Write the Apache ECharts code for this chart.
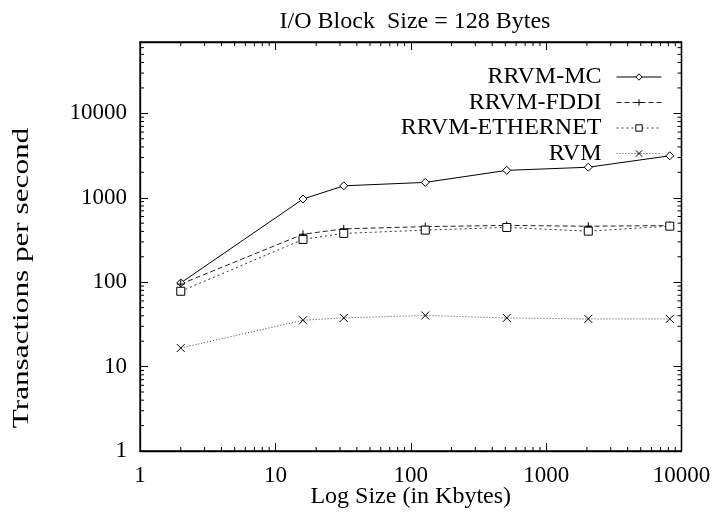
<!DOCTYPE html>
<html><head><meta charset="utf-8">
<script src="https://cdn.jsdelivr.net/npm/echarts@6/dist/echarts.min.js"></script>
<style>html,body{margin:0;padding:0;background:#fff}#c{width:717px;height:519px}</style>
</head><body><div id="c"></div>
<script>
const sizesKB = [2, 16, 32, 128, 512, 2048, 8192];
const rrvmMC = [98, 965, 1385, 1520, 2110, 2300, 3140];
const rrvmFDDI = [95, 370, 428, 455, 470, 460, 468];
const rrvmEthernet = [78, 321, 378, 414, 445, 402, 461];
const rvm = [16.6, 35.4, 37.7, 40.3, 37.7, 36.7, 36.7];
const seriesNames = ['RRVM-MC', 'RRVM-FDDI', 'RRVM-ETHERNET', 'RVM'];
const xTickLabels = ['1', '10', '100', '1000', '10000'];
const yTickLabels = ['1', '10', '100', '1000', '10000'];
const minorMultiples = [2, 3, 4, 5, 6, 7, 8, 9];
const xDecades = [1, 10, 100, 1000];
const yDecades = [1, 10, 100, 1000, 10000];
const X_MIN = 1, X_MAX = 10000, Y_MIN = 1, Y_MAX = 70000;

const FONT = 'Liberation Serif';
const chart = echarts.init(document.getElementById('c'), null, {renderer: 'canvas'});

const pair = (ys) => sizesKB.map((x, i) => [x, ys[i]]);

const minorX = [];
xDecades.forEach(d => minorMultiples.forEach(m => { if (d * m < X_MAX) minorX.push(d * m); }));
const minorY = [];
yDecades.forEach(d => minorMultiples.forEach(m => { if (d * m < Y_MAX) minorY.push(d * m); }));
const minorData = minorX.map(v => [v, Y_MIN, 0]).concat(minorY.map(v => [X_MIN, v, 1]));

const plusPath = 'path://M0,5L10,5M5,0L5,10';
const crossPath = 'path://M0,0L10,10M0,10L10,0';

function lineSeries(name, ys, symbol, size, dash, color) {
  return {
    name, type: 'line', data: pair(ys), symbol, symbolSize: size,
    showAllSymbol: true,
    lineStyle: {color, width: 1, type: dash},
    itemStyle: {color: symbol.startsWith('path') ? 'rgba(0,0,0,0)' : '#fff', borderColor: '#000', borderWidth: 1},
    emphasis: {disabled: true}, z: 3
  };
}

const labelFmt = (labels) => (v) => {
  const s = String(Math.round(v));
  return labels.indexOf(s) >= 0 ? s : '';
};

const axisCommon = {
  type: 'log', logBase: 10,
  axisLine: {show: true, lineStyle: {color: '#000', width: 1.3}},
  axisTick: {show: true, inside: true, length: 8, lineStyle: {color: '#000'}},
  splitLine: {show: false},
  minorTick: {show: false}
};

chart.setOption({
  animation: false,
  backgroundColor: '#fff',
  title: {
    text: 'I/O Block  Size = 128 Bytes', left: 410, top: 5, textAlign: 'center',
    textStyle: {fontFamily: FONT, fontSize: 24, fontWeight: 'normal', color: '#000'}
  },
  grid: {left: 140, right: 35.5, top: 42, bottom: 68, show: true, borderColor: '#000', borderWidth: 1.3,
         containLabel: false, outerBoundsMode: 'none'},
  legend: {
    data: seriesNames, orient: 'vertical', right: 50, top: 60, align: 'right',
    itemWidth: 45, itemHeight: 8, itemGap: 1.5,
    itemStyle: {borderWidth: 1},
    lineStyle: {width: 1},
    textStyle: {fontFamily: FONT, fontSize: 24, lineHeight: 22, color: '#000', padding: [0, 10, 0, 0]},
    selectedMode: false
  },
  xAxis: [
    Object.assign({}, axisCommon, {
      min: X_MIN, max: X_MAX, position: 'bottom',
      name: 'Log Size (in Kbytes)', nameLocation: 'middle', nameGap: 34, nameMoveOverlap: false,
      nameTextStyle: {fontFamily: FONT, fontSize: 24, color: '#000'},
      axisLabel: {fontFamily: FONT, fontSize: 23, color: '#000', margin: 13, formatter: labelFmt(xTickLabels)}
    }),
    Object.assign({}, axisCommon, {
      min: X_MIN, max: X_MAX, position: 'top', axisLabel: {show: false}
    })
  ],
  yAxis: [
    Object.assign({}, axisCommon, {
      min: Y_MIN, max: Y_MAX, position: 'left',
      axisLabel: {fontFamily: FONT, fontSize: 23, color: '#000', margin: 13, formatter: labelFmt(yTickLabels)}
    }),
    Object.assign({}, axisCommon, {
      min: Y_MIN, max: Y_MAX, position: 'right', axisLabel: {show: false}
    })
  ],
  graphic: [{
    type: 'text', x: 22, y: 278, rotation: Math.PI / 2, scaleX: 1.3, scaleY: 1,
    style: {text: 'Transactions per second', fontFamily: FONT, fontSize: 24, fill: '#000', align: 'center', verticalAlign: 'middle'}
  }],
  series: [
    lineSeries('RRVM-MC', rrvmMC, 'diamond', 8, 'solid', '#000'),
    lineSeries('RRVM-FDDI', rrvmFDDI, plusPath, 8, [5, 3], '#222'),
    lineSeries('RRVM-ETHERNET', rrvmEthernet, 'rect', 8, [2, 3], '#333'),
    lineSeries('RVM', rvm, crossPath, 8, [1, 2], '#444'),
    {
      type: 'custom', name: 'minorTicks', silent: true, clip: false, z: 2,
      data: minorData,
      encode: {x: 0, y: 1},
      renderItem: function (params, api) {
        const kind = api.value(2);
        const len = 4;
        if (kind === 0) {
          const xv = api.value(0);
          const b = api.coord([xv, Y_MIN]);
          const t = api.coord([xv, Y_MAX]);
          return {type: 'group', children: [
            {type: 'line', shape: {x1: b[0], y1: b[1], x2: b[0], y2: b[1] - len}, style: {stroke: '#000', lineWidth: 1}},
            {type: 'line', shape: {x1: t[0], y1: t[1], x2: t[0], y2: t[1] + len}, style: {stroke: '#000', lineWidth: 1}}
          ]};
        } else {
          const yv = api.value(1);
          const l = api.coord([X_MIN, yv]);
          const r = api.coord([X_MAX, yv]);
          return {type: 'group', children: [
            {type: 'line', shape: {x1: l[0], y1: l[1], x2: l[0] + len, y2: l[1]}, style: {stroke: '#000', lineWidth: 1}},
            {type: 'line', shape: {x1: r[0], y1: r[1], x2: r[0] - len, y2: r[1]}, style: {stroke: '#000', lineWidth: 1}}
          ]};
        }
      }
    }
  ]
});
</script>
</body></html>
